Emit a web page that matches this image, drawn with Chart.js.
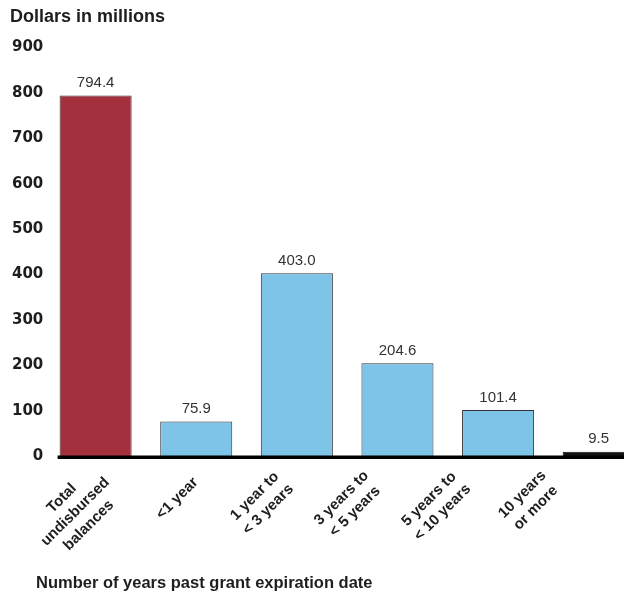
<!DOCTYPE html>
<html lang="en">
<head>
<meta charset="UTF-8">
<title>Undisbursed balances by years past expiration</title>
<script src="https://cdn.jsdelivr.net/npm/chart.js"></script>
<style>
  body { margin: 0; background: #fff; overflow: hidden; }
  canvas { display: block; }
</style>
</head>
<body>
<canvas id="chart" width="651" height="592"></canvas>
<script>
// values
const categories = [
  ['Total', 'undisbursed', 'balances'],
  ['<1 year'],
  ['1 year to', '< 3 years'],
  ['3 years to', '< 5 years'],
  ['5 years to', '< 10 years'],
  ['10 years', 'or more']
];
const amounts = [794.4, 75.9, 403.0, 204.6, 101.4, 9.5];
const barColors = ['#a42f3d', '#7dc4e8', '#7dc4e8', '#7dc4e8', '#7dc4e8', '#111111'];
const yMax = 900;
const yStep = 100;
// the category labels in the original sit a little tighter than the bars
const labelRange = [-0.697, 6.113];

const textColor = '#1e1e1e';

// value labels above each bar
const valueLabels = {
  id: 'valueLabels',
  afterDatasetsDraw(chart) {
    const ctx = chart.ctx;
    ctx.save();
    ctx.font = '15px "Liberation Sans", Arial, sans-serif';
    ctx.fillStyle = '#333';
    ctx.textAlign = 'center';
    ctx.textBaseline = 'bottom';
    chart.getDatasetMeta(0).data.forEach((bar, i) => {
      ctx.fillText(amounts[i].toFixed(1), bar.x, bar.y - 5);
    });
    ctx.restore();
  }
};

// thick black baseline, rotated category labels, x title
const axisDecor = {
  id: 'axisDecor',
  afterDatasetsDraw(chart) {
    const ctx = chart.ctx;
    const y0 = chart.scales.y.getPixelForValue(0);
    const first = chart.getDatasetMeta(0).data[0];
    ctx.save();
    ctx.fillStyle = '#000';
    ctx.fillRect(first.x - first.width / 2 - 2, y0 - 0.5, chart.width, 3.5);

    const ls = chart.scales.labelAxis;
    ctx.font = 'bold 15px "Liberation Sans", Arial, sans-serif';
    ctx.fillStyle = textColor;
    ctx.textAlign = 'center';
    ctx.textBaseline = 'middle';
    const lh = 19;
    categories.forEach((lines, i) => {
      const w = Math.max(...lines.map(l => ctx.measureText(l).width));
      ctx.save();
      ctx.translate(ls.getPixelForValue(i), y0 + 24);
      ctx.rotate(-Math.PI / 4);
      lines.forEach((l, j) => ctx.fillText(l, -w / 2, (j - (lines.length - 1) / 2) * lh));
      ctx.restore();
    });

    ctx.font = 'bold 16.5px "Liberation Sans", Arial, sans-serif';
    ctx.textAlign = 'left';
    ctx.fillText('Number of years past grant expiration date', 36, 583);
    ctx.restore();
  }
};

new Chart(document.getElementById('chart'), {
  type: 'bar',
  data: {
    labels: categories,
    datasets: [{
      data: amounts,
      backgroundColor: barColors,
      borderColor: ['#333', '#333', '#333', '#333', '#333', '#111'],
      borderWidth: 1,
      barPercentage: 0.716,
      categoryPercentage: 1
    }]
  },
  options: {
    responsive: false,
    animation: false,
    layout: { padding: { left: 10, right: 2, top: 0, bottom: 136 } },
    plugins: {
      legend: { display: false },
      tooltip: { enabled: false },
      title: {
        display: true,
        text: 'Dollars in millions',
        align: 'start',
        color: textColor,
        font: { family: '"Liberation Sans", Arial, sans-serif', size: 18, weight: 'bold' },
        padding: { top: 6, bottom: 20 }
      }
    },
    scales: {
      x: {
        grid: { display: false, drawTicks: false },
        border: { display: false },
        ticks: { display: false }
      },
      labelAxis: {
        type: 'linear',
        axis: 'x',
        position: 'bottom',
        display: false,
        offset: false,
        min: labelRange[0],
        max: labelRange[1]
      },
      y: {
        min: 0,
        max: yMax,
        grid: { display: false, drawTicks: false },
        border: { display: false },
        ticks: {
          stepSize: yStep,
          padding: 2,
          color: textColor,
          font: { family: '"DejaVu Sans", sans-serif', size: 15, weight: 'bold' }
        }
      }
    }
  },
  plugins: [valueLabels, axisDecor]
});
</script>
</body>
</html>
